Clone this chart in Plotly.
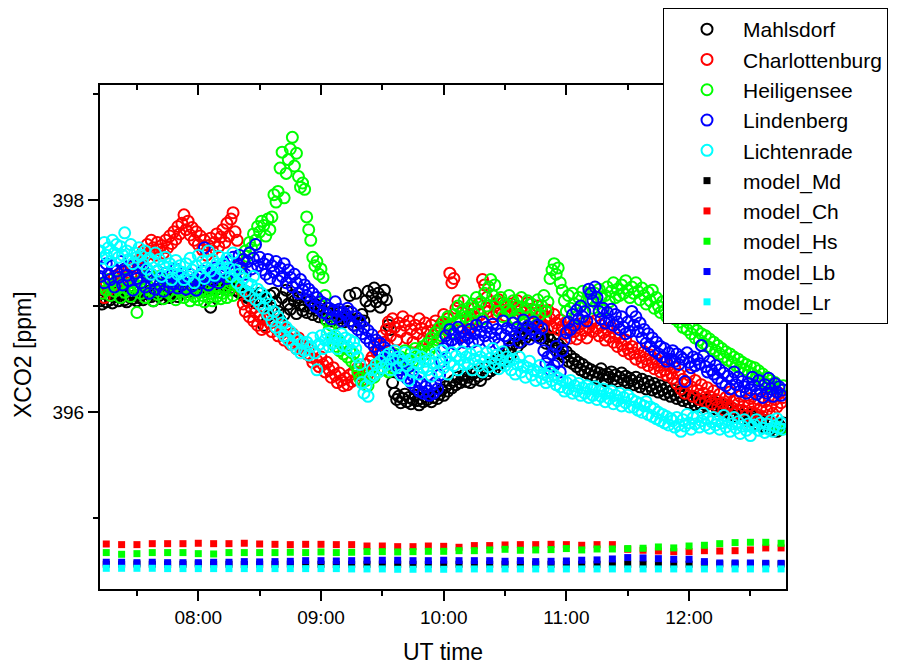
import plotly.graph_objects as go
import pandas as pd

DAY = "2014-06-01 "
OBS_START = "07:12"      # observations: one value per minute
MODEL_START = "07:15"    # model: one value every 7.5 minutes

MAHLSDORF = [
    397.05, 397.02, 397.08, 397.04, 397.10, 397.06, 397.03, 397.09, 397.12, 397.05, 397.08, 397.11, 397.06, 397.04, 397.09, 397.13, 397.07, 397.10, 397.05, 397.08,
    397.10, 397.06, 397.12, 397.08, 397.14, 397.09, 397.05, 397.11, 397.15, 397.10, 397.07, 397.12, 397.16, 397.11, 397.08, 397.13, 397.17, 397.12, 397.09, 397.14,
    397.18, 397.13, 397.16, 397.20, 397.14, 397.17, 397.21, 397.15, 397.19, 397.23, 397.17, 397.14, 397.20, 397.16, 396.99, 397.18, 397.22, 397.16, 397.20, 397.24,
    397.20, 397.24, 397.18, 397.22, 397.17, 397.21, 397.15, 397.19, 397.13, 397.16, 397.10, 397.14, 397.08, 397.12, 397.06, 397.10, 397.03, 397.08, 397.12, 397.05,
    396.82, 397.06, 396.90, 397.10, 396.98, 397.12, 397.04, 396.95, 396.87, 397.08, 396.92, 397.15, 397.02, 396.97, 397.10, 397.05, 396.93, 397.08, 397.01, 396.96,
    397.00, 396.94, 397.04, 396.98, 396.92, 397.02, 396.96, 396.90, 397.00, 396.95, 396.88, 396.98, 396.93, 396.86, 396.96, 396.91, 396.84, 396.94, 396.89, 396.85,
    396.90, 396.95, 397.10, 396.86, 396.82, 397.12, 396.88, 396.84, 396.92, 396.86, 397.05, 397.14, 397.00, 397.10, 397.17, 397.04, 397.12, 396.99, 397.08, 397.15,
    397.06, 396.82, 396.78, 396.28, 396.18, 396.12, 396.15, 396.09, 396.13, 396.17, 396.10, 396.14, 396.08, 396.12, 396.16, 396.11, 396.07, 396.13, 396.10, 396.15,
    396.12, 396.16, 396.10, 396.14, 396.18, 396.13, 396.17, 396.21, 396.16, 396.24, 396.20, 396.27, 396.23, 396.30, 396.26, 396.33, 396.28, 396.31, 396.35, 396.29,
    396.33, 396.28, 396.36, 396.31, 396.38, 396.34, 396.30, 396.37, 396.42, 396.36, 396.44, 396.39, 396.47, 396.41, 396.50, 396.45, 396.53, 396.48, 396.56, 396.51,
    396.60, 396.55, 396.64, 396.68, 396.62, 396.72, 396.66, 396.75, 396.70, 396.80, 396.74, 396.84, 396.78, 396.72, 396.81, 396.76, 396.70, 396.78, 396.65, 396.72,
    396.68, 396.62, 396.70, 396.58, 396.64, 396.55, 396.60, 396.52, 396.57, 396.48, 396.53, 396.46, 396.50, 396.43, 396.47, 396.40, 396.45, 396.38, 396.42, 396.36,
    396.40, 396.34, 396.38, 396.32, 396.37, 396.41, 396.35, 396.30, 396.36, 396.33, 396.38, 396.31, 396.35, 396.29, 396.33, 396.37, 396.30, 396.34, 396.28, 396.32,
    396.30, 396.26, 396.33, 396.28, 396.24, 396.31, 396.27, 396.22, 396.29, 396.25, 396.21, 396.27, 396.23, 396.19, 396.25, 396.21, 396.17, 396.23, 396.19, 396.15,
    396.21, 396.17, 396.13, 396.19, 396.15, 396.11, 396.17, 396.13, 396.09, 396.15, 396.11, 396.07, 396.13, 396.09, 396.05, 396.11, 396.07, 396.12, 396.08, 396.04,
    396.10, 396.06, 396.02, 396.08, 396.04, 396.00, 396.06, 396.02, 395.98, 396.04, 396.00, 395.96, 396.02, 395.98, 395.94, 396.00, 395.96, 395.92, 395.98, 395.94,
    395.96, 395.92, 395.88, 395.94, 395.90, 395.86, 395.92, 395.88, 395.84, 395.90, 395.86, 395.82, 395.88, 395.85, 395.90,
]

CHARLOTTENBURG = [
    397.12, 397.18, 397.08, 397.22, 397.15, 397.25, 397.19, 397.28, 397.21, 397.30, 397.24, 397.33, 397.27, 397.22, 397.35, 397.29, 397.38, 397.32, 397.42, 397.36,
    397.45, 397.52, 397.47, 397.58, 397.50, 397.62, 397.55, 397.48, 397.60, 397.53, 397.57, 397.50, 397.62, 397.55, 397.66, 397.59, 397.70, 397.63, 397.75, 397.68,
    397.78, 397.86, 397.72, 397.80, 397.67, 397.74, 397.62, 397.70, 397.58, 397.66, 397.53, 397.62, 397.48, 397.57, 397.64, 397.52, 397.60, 397.68, 397.56, 397.65,
    397.72, 397.60, 397.78, 397.66, 397.82, 397.88, 397.70, 397.62, 397.40, 397.15, 397.02, 396.95, 397.05, 396.90, 396.98, 396.86, 396.94, 396.82, 396.90, 396.78,
    396.88, 396.80, 396.92, 396.84, 396.76, 396.86, 396.79, 396.72, 396.82, 396.75, 396.68, 396.78, 396.70, 396.64, 396.74, 396.67, 396.60, 396.70, 396.63, 396.58,
    396.62, 396.55, 396.60, 396.52, 396.47, 396.56, 396.49, 396.43, 396.52, 396.45, 396.38, 396.47, 396.40, 396.33, 396.42, 396.35, 396.28, 396.37, 396.30, 396.25,
    396.32, 396.26, 396.35, 396.29, 396.38, 396.31, 396.42, 396.35, 396.30, 396.40, 396.45, 396.36, 396.48, 396.52, 396.44, 396.58, 396.65, 396.56, 396.72, 396.66,
    396.78, 396.85, 396.72, 396.88, 396.80, 396.68, 396.84, 396.76, 396.90, 396.82, 396.70, 396.86, 396.78, 396.66, 396.82, 396.74, 396.88, 396.79, 396.69, 396.84,
    396.76, 396.68, 396.82, 396.73, 396.86, 396.78, 396.70, 396.84, 396.92, 396.80, 396.88, 397.31, 397.22, 397.26, 396.98, 397.05, 396.86, 396.94, 396.72, 396.85,
    396.78, 396.92, 396.84, 396.98, 396.88, 397.02, 396.92, 397.25, 397.20, 397.08, 396.95, 397.04, 396.90, 397.00, 396.93, 397.06, 396.97, 397.03, 396.91, 397.00,
    396.95, 397.02, 396.88, 396.98, 397.05, 396.92, 396.99, 396.86, 396.95, 397.03, 396.90, 396.97, 396.84, 396.93, 397.00, 396.87, 396.95, 396.82, 396.90, 396.96,
    396.88, 396.80, 396.92, 396.84, 396.78, 396.87, 396.81, 396.74, 396.85, 396.78, 396.70, 396.82, 396.76, 396.69, 396.80, 396.73, 396.84, 396.77, 396.70, 396.80,
    396.84, 396.76, 396.86, 396.79, 396.72, 396.82, 396.75, 396.68, 396.78, 396.71, 396.80, 396.66, 396.74, 396.62, 396.70, 396.64, 396.58, 396.68, 396.60, 396.55,
    396.62, 396.56, 396.50, 396.60, 396.53, 396.47, 396.57, 396.50, 396.44, 396.54, 396.47, 396.41, 396.50, 396.44, 396.38, 396.47, 396.40, 396.35, 396.44, 396.37,
    396.32, 396.42, 396.27, 396.36, 396.22, 396.31, 396.18, 396.28, 396.35, 396.24, 396.15, 396.30, 396.21, 396.12, 396.26, 396.18, 396.10, 396.23, 396.15, 396.08,
    396.20, 396.12, 396.05, 396.17, 396.09, 396.02, 396.14, 396.07, 396.19, 396.04, 396.11, 395.99, 396.08, 396.15, 396.02, 396.10, 395.97, 396.06, 396.13, 396.00,
    396.08, 395.98, 396.12, 396.04, 395.96, 396.10, 396.02, 396.15, 396.06, 395.99, 396.12, 396.05, 396.18, 396.09, 396.14,
]

HEILIGENSEE = [
    397.18, 397.12, 397.22, 397.15, 397.25, 397.10, 397.20, 397.14, 397.24, 397.17, 397.08, 397.21, 397.13, 397.26, 397.16, 397.09, 397.22, 397.15, 396.94, 397.19,
    397.12, 397.26, 397.08, 397.20, 397.30, 397.14, 397.05, 397.23, 397.11, 397.28, 397.17, 397.07, 397.22, 397.13, 397.25, 397.10, 397.18, 397.06, 397.21, 397.14,
    397.16, 397.08, 397.20, 397.11, 397.05, 397.17, 397.09, 397.14, 397.06, 397.19, 397.10, 397.04, 397.15, 397.08, 397.12, 397.05, 397.18, 397.09, 397.13, 397.07,
    397.12, 397.18, 397.08, 397.15, 397.22, 397.10, 397.28, 397.20, 397.35, 397.30, 397.44, 397.52, 397.47, 397.60, 397.55, 397.68, 397.62, 397.75, 397.70, 397.80,
    397.76, 397.66, 397.82, 397.72, 397.84, 398.05, 397.98, 398.08, 398.30, 398.45, 398.02, 398.25, 398.38, 398.48, 398.59, 398.32, 398.44, 398.22, 398.12, 398.16,
    398.10, 397.84, 397.72, 397.62, 397.46, 397.38, 397.42, 397.30, 397.35, 397.27, 397.10, 396.86, 396.78, 396.82, 396.70, 396.62, 396.68, 396.58, 396.64, 396.55,
    396.60, 396.52, 396.58, 396.48, 396.55, 396.44, 396.38, 396.32, 396.28, 396.36, 396.30, 396.25, 396.34, 396.40, 396.33, 396.45, 396.38, 396.42, 396.48, 396.40,
    396.45, 396.38, 396.50, 396.42, 396.55, 396.47, 396.40, 396.52, 396.45, 396.58, 396.50, 396.43, 396.56, 396.48, 396.60, 396.53, 396.46, 396.58, 396.62, 396.55,
    396.65, 396.58, 396.70, 396.62, 396.75, 396.68, 396.80, 396.72, 396.85, 396.78, 396.90, 396.82, 396.75, 396.92, 396.85, 397.00, 396.88, 396.95, 397.05, 396.90,
    396.98, 396.86, 397.02, 396.92, 397.08, 396.95, 397.04, 396.88, 397.12, 397.00, 397.18, 397.25, 397.10, 397.20, 397.05, 396.95, 397.08, 396.90, 397.02, 396.96,
    397.10, 396.95, 397.05, 396.88, 397.00, 396.92, 397.08, 396.85, 396.98, 397.05, 396.90, 397.02, 396.86, 396.96, 397.06, 396.92, 397.00, 397.10, 396.95, 397.04,
    397.26, 397.34, 397.40, 397.30, 397.36, 397.22, 397.15, 397.05, 396.95, 397.10, 396.98, 397.12, 397.02, 396.90, 397.08, 397.00, 397.14, 396.94, 397.06, 397.12,
    397.05, 396.98, 397.12, 397.02, 397.16, 397.08, 396.96, 397.10, 397.18, 397.04, 397.14, 397.22, 397.08, 397.16, 397.10, 397.20, 397.12, 397.24, 397.15, 397.08,
    397.18, 397.12, 397.22, 397.14, 397.06, 397.17, 397.10, 397.02, 397.13, 397.05, 397.15, 396.98, 397.08, 397.00, 396.94, 397.04, 396.96, 396.90, 397.00, 396.92,
    396.96, 396.88, 396.94, 396.85, 396.90, 396.80, 396.87, 396.78, 396.84, 396.74, 396.80, 396.70, 396.77, 396.68, 396.74, 396.65, 396.72, 396.62, 396.69, 396.60,
    396.66, 396.58, 396.63, 396.55, 396.60, 396.52, 396.57, 396.49, 396.55, 396.47, 396.52, 396.44, 396.50, 396.42, 396.47, 396.40, 396.45, 396.38, 396.43, 396.36,
    396.42, 396.34, 396.39, 396.31, 396.36, 396.28, 396.33, 396.26, 396.30, 396.24, 396.28, 395.86, 396.22, 395.84, 396.25,
]

LINDENBERG = [
    397.28, 397.36, 397.22, 397.40, 397.30, 397.25, 397.38, 397.18, 397.33, 397.27, 397.42, 397.20, 397.35, 397.29, 397.24, 397.37, 397.15, 397.31, 397.26, 397.39,
    397.22, 397.34, 397.18, 397.28, 397.12, 397.30, 397.24, 397.16, 397.33, 397.20, 397.27, 397.14, 397.31, 397.23, 397.18, 397.29, 397.21, 397.35, 397.17, 397.26,
    397.20, 397.27, 397.16, 397.24, 397.30, 397.19, 397.25, 397.15, 397.28, 397.22, 397.33, 397.55, 397.26, 397.20, 397.31, 397.24, 397.36, 397.28, 397.22, 397.34,
    397.30, 397.38, 397.26, 397.42, 397.34, 397.46, 397.32, 397.40, 397.48, 397.36, 397.44, 397.30, 397.42, 397.50, 397.35, 397.45, 397.58, 397.38, 397.46, 397.34,
    397.40, 397.30, 397.44, 397.26, 397.38, 397.32, 397.42, 397.24, 397.36, 397.28, 397.40, 397.22, 397.34, 397.27, 397.18, 397.30, 397.22, 397.12, 397.25, 397.15,
    397.20, 397.10, 397.16, 397.05, 397.12, 397.00, 397.08, 396.98, 397.04, 396.94, 397.02, 396.92, 396.98, 396.88, 396.96, 397.04, 396.90, 396.97, 396.86, 396.94,
    396.92, 396.98, 396.86, 396.94, 396.82, 396.90, 396.78, 396.86, 396.74, 396.80, 396.70, 396.77, 396.66, 396.73, 396.62, 396.68, 396.58, 396.65, 396.55, 396.61,
    396.52, 396.58, 396.48, 396.54, 396.44, 396.50, 396.40, 396.46, 396.36, 396.42, 396.32, 396.38, 396.28, 396.34, 396.24, 396.30, 396.20, 396.27, 396.18, 396.24,
    396.20, 396.16, 396.25, 396.18, 396.28, 396.22, 396.35, 396.48, 396.60, 396.72, 396.65, 396.78, 396.68, 396.74, 396.64, 396.80, 396.70, 396.76, 396.66, 396.73,
    396.70, 396.78, 396.66, 396.74, 396.82, 396.68, 396.76, 396.85, 396.72, 396.80, 396.66, 396.75, 396.83, 396.70, 396.78, 396.64, 396.74, 396.86, 396.72, 396.79,
    396.68, 396.77, 396.84, 396.72, 396.80, 396.66, 396.75, 396.87, 396.73, 396.81, 396.69, 396.78, 396.85, 396.74, 396.82, 396.70, 396.79, 396.58, 396.46, 396.52,
    396.40, 396.55, 396.44, 396.62, 396.48, 396.38, 396.58, 396.68, 396.75, 396.85, 396.78, 396.92, 396.82, 396.96, 396.88, 397.00, 396.90, 396.95, 396.86, 397.16,
    397.12, 397.05, 397.18, 397.08, 396.95, 396.88, 396.98, 396.84, 396.94, 396.86, 396.97, 396.82, 396.92, 396.85, 396.78, 396.90, 396.80, 396.74, 396.85, 396.76,
    396.95, 396.82, 396.90, 396.76, 396.84, 396.70, 396.78, 396.65, 396.74, 396.62, 396.70, 396.58, 396.66, 396.55, 396.62, 396.52, 396.60, 396.48, 396.56, 396.50,
    396.58, 396.48, 396.55, 396.45, 396.52, 396.50, 396.29, 396.56, 396.47, 396.42, 396.52, 396.44, 396.50, 396.46, 396.63, 396.53, 396.43, 396.38, 396.48, 396.40,
    396.36, 396.44, 396.32, 396.40, 396.28, 396.37, 396.25, 396.34, 396.22, 396.31, 396.38, 396.26, 396.33, 396.20, 396.29, 396.24, 396.18, 396.27, 396.21, 396.33,
    396.25, 396.17, 396.30, 396.20, 396.14, 396.26, 396.18, 396.32, 396.22, 396.15, 396.27, 396.19, 396.24, 396.16, 396.21,
]

LICHTENRADE = [
    397.52, 397.45, 397.60, 397.48, 397.55, 397.42, 397.62, 397.50, 397.58, 397.46, 397.56, 397.48, 397.69, 397.52, 397.44, 397.58, 397.40, 397.50, 397.46, 397.55,
    397.48, 397.40, 397.52, 397.35, 397.45, 397.30, 397.42, 397.50, 397.33, 397.44, 397.28, 397.38, 397.46, 397.32, 397.40, 397.25, 397.36, 397.43, 397.30, 397.38,
    397.32, 397.25, 397.40, 397.28, 397.45, 397.34, 397.22, 397.38, 397.48, 397.30, 397.42, 397.26, 397.36, 397.52, 397.33, 397.44, 397.29, 397.40, 397.47, 397.35,
    397.40, 397.32, 397.45, 397.36, 397.28, 397.50, 397.34, 397.22, 397.30, 397.18, 397.26, 397.14, 397.22, 397.10, 397.20, 397.28, 397.06, 397.16, 397.02, 397.12,
    396.98, 397.08, 396.92, 397.02, 396.86, 396.95, 396.80, 396.90, 396.76, 396.84, 396.72, 396.80, 396.68, 396.76, 396.64, 396.72, 396.60, 396.68, 396.56, 396.65,
    396.58, 396.66, 396.54, 396.62, 396.70, 396.56, 396.40, 396.64, 396.72, 396.60, 396.68, 396.74, 396.62, 396.70, 396.65, 396.72, 396.60, 396.68, 396.74, 396.63,
    396.70, 396.62, 396.68, 396.58, 396.66, 396.60, 396.52, 396.45, 396.28, 396.18, 396.25, 396.15, 396.32, 396.40, 396.35, 396.45, 396.38, 396.48, 396.42, 396.52,
    396.45, 396.55, 396.40, 396.50, 396.58, 396.42, 396.52, 396.35, 396.48, 396.56, 396.44, 396.30, 396.50, 396.38, 396.54, 396.46, 396.36, 396.52, 396.42, 396.48,
    396.40, 396.50, 396.34, 396.46, 396.55, 396.38, 396.48, 396.58, 396.42, 396.52, 396.36, 396.47, 396.56, 396.44, 396.53, 396.40, 396.50, 396.57, 396.45, 396.52,
    396.46, 396.55, 396.40, 396.50, 396.58, 396.44, 396.52, 396.38, 396.48, 396.56, 396.43, 396.51, 396.60, 396.46, 396.54, 396.41, 396.49, 396.57, 396.44, 396.52,
    396.48, 396.40, 396.50, 396.36, 396.45, 396.52, 396.38, 396.44, 396.33, 396.42, 396.48, 396.35, 396.40, 396.30, 396.38, 396.44, 396.32, 396.36, 396.28, 396.34,
    396.38, 396.30, 396.35, 396.26, 396.32, 396.24, 396.30, 396.20, 396.28, 396.22, 396.30, 396.18, 396.25, 396.20, 396.27, 396.16, 396.23, 396.18, 396.25, 396.14,
    396.22, 396.16, 396.24, 396.12, 396.20, 396.15, 396.22, 396.10, 396.18, 396.13, 396.20, 396.08, 396.16, 396.11, 396.18, 396.06, 396.14, 396.09, 396.16, 396.05,
    396.12, 396.05, 396.10, 396.02, 396.08, 396.00, 396.06, 396.10, 395.98, 396.05, 395.96, 396.03, 395.94, 396.00, 395.92, 395.98, 395.90, 395.96, 395.88, 395.94,
    395.92, 395.86, 395.95, 395.88, 395.82, 395.93, 395.87, 395.98, 395.90, 395.84, 395.95, 395.89, 395.96, 395.86, 395.92, 395.99, 395.88, 395.94, 395.85, 395.91,
    395.95, 395.88, 395.92, 395.84, 395.90, 395.97, 395.86, 395.93, 395.82, 395.89, 395.95, 395.85, 395.91, 395.80, 395.87, 395.93, 395.83, 395.89, 395.78, 395.86,
    395.88, 395.93, 395.83, 395.90, 395.85, 395.81, 395.89, 395.84, 395.92, 395.82, 395.87, 395.94, 395.85, 395.90, 395.84,
]

MODEL_MD = [
    394.568, 394.568, 394.570, 394.568, 394.566, 394.568, 394.570, 394.568, 394.568, 394.566, 394.568, 394.568, 394.570, 394.568, 394.568,
    394.566, 394.568, 394.568, 394.570, 394.568, 394.568, 394.566, 394.568, 394.568, 394.568, 394.568, 394.568, 394.568, 394.568, 394.568,
    394.568, 394.568, 394.568, 394.571, 394.568, 394.568, 394.568, 394.568, 394.568, 394.568, 394.570, 394.570, 394.570, 394.570, 394.570,
]
MODEL_CH = [
    394.759, 394.753, 394.753, 394.762, 394.762, 394.762, 394.766, 394.762, 394.762, 394.766, 394.759, 394.756, 394.753, 394.756, 394.756,
    394.753, 394.753, 394.740, 394.740, 394.734, 394.734, 394.740, 394.737, 394.728, 394.744, 394.744, 394.750, 394.753, 394.753, 394.756,
    394.753, 394.747, 394.753, 394.753, 394.709, 394.700, 394.693, 394.687, 394.687, 394.696, 394.693, 394.696, 394.703, 394.722, 394.722,
]
MODEL_HS = [
    394.678, 394.662, 394.668, 394.678, 394.678, 394.678, 394.668, 394.665, 394.678, 394.678, 394.678, 394.678, 394.681, 394.678, 394.684,
    394.678, 394.681, 394.687, 394.687, 394.684, 394.687, 394.690, 394.690, 394.696, 394.696, 394.703, 394.709, 394.700, 394.703, 394.706,
    394.716, 394.703, 394.712, 394.712, 394.716, 394.719, 394.731, 394.722, 394.740, 394.747, 394.762, 394.772, 394.775, 394.775, 394.766,
]
MODEL_LB = [
    394.587, 394.587, 394.583, 394.587, 394.583, 394.583, 394.583, 394.587, 394.587, 394.593, 394.590, 394.593, 394.596, 394.602, 394.602,
    394.599, 394.602, 394.606, 394.606, 394.606, 394.602, 394.602, 394.606, 394.602, 394.602, 394.602, 394.596, 394.602, 394.593, 394.596,
    394.599, 394.606, 394.609, 394.618, 394.631, 394.628, 394.621, 394.615, 394.615, 394.593, 394.580, 394.580, 394.580, 394.577, 394.577,
]
MODEL_LR = [
    394.530, 394.530, 394.530, 394.530, 394.527, 394.527, 394.527, 394.527, 394.527, 394.527, 394.527, 394.527, 394.527, 394.527, 394.527,
    394.527, 394.524, 394.524, 394.524, 394.521, 394.521, 394.524, 394.521, 394.524, 394.524, 394.524, 394.524, 394.524, 394.524, 394.524,
    394.524, 394.524, 394.524, 394.524, 394.524, 394.524, 394.524, 394.524, 394.524, 394.524, 394.524, 394.524, 394.524, 394.524, 394.524,
]

OBS = [("Mahlsdorf", MAHLSDORF, "#000000"),
       ("Charlottenburg", CHARLOTTENBURG, "#FF0000"),
       ("Heiligensee", HEILIGENSEE, "#00FF00"),
       ("Lindenberg", LINDENBERG, "#0000FF"),
       ("Lichtenrade", LICHTENRADE, "#00FFFF")]
MODELS = [("model_Md", MODEL_MD, "#000000"),
          ("model_Ch", MODEL_CH, "#FF0000"),
          ("model_Hs", MODEL_HS, "#00FF00"),
          ("model_Lb", MODEL_LB, "#0000FF"),
          ("model_Lr", MODEL_LR, "#00FFFF")]

X_RANGE = [DAY + "07:11:56", DAY + "12:47:24"]
Y_RANGE = [394.335, 399.083]

fig = go.Figure()
for name, vals, col in OBS:
    t = pd.date_range(DAY + OBS_START, periods=len(vals), freq="1min")
    fig.add_trace(go.Scatter(x=t, y=vals, mode="markers", name=name,
                             marker=dict(symbol="circle-open", size=11, color=col,
                                         line=dict(width=2, color=col))))
for name, vals, col in MODELS:
    t = pd.date_range(DAY + MODEL_START, periods=len(vals), freq="450s")
    fig.add_trace(go.Scatter(x=t, y=vals, mode="markers", name=name,
                             marker=dict(symbol="square", size=7, color=col,
                                         line=dict(width=0))))
# empty helper trace so that the top tick axis is drawn
fig.add_trace(go.Scatter(x=[], y=[], xaxis="x2", showlegend=False, hoverinfo="skip"))

FONT = "Liberation Sans, Arial, sans-serif"
fig.update_layout(
    width=908, height=664,
    margin=dict(l=100, r=122, t=85, b=75, autoexpand=False),
    paper_bgcolor="white", plot_bgcolor="white",
    font=dict(family=FONT, color="black", size=19),
    showlegend=True,
    legend=dict(x=0.8207, y=1.1528, xanchor="left", yanchor="top",
                bgcolor="white", bordercolor="black", borderwidth=1,
                font=dict(family=FONT, size=21, color="black"),
                indentation=7, itemwidth=62,
                entrywidth=215, entrywidthmode="pixels"),
    xaxis=dict(type="date", range=X_RANGE, tickformat="%H:%M",
               tick0=DAY + "08:00", dtick=3600000,
               ticks="outside", ticklen=10, tickwidth=2, tickcolor="black",
               minor=dict(dtick=1800000, ticks="outside", ticklen=5, tickwidth=2, tickcolor="black"),
               showline=True, linewidth=2, linecolor="black", mirror=True,
               showgrid=False, zeroline=False,
               tickfont=dict(size=19)),
    xaxis2=dict(type="date", range=X_RANGE, overlaying="x", side="top",
                tick0=DAY + "08:00", dtick=3600000, showticklabels=False,
                ticks="inside", ticklen=10, tickwidth=2, tickcolor="black",
                minor=dict(dtick=1800000, ticks="inside", ticklen=5, tickwidth=2, tickcolor="black"),
                showline=False, showgrid=False, zeroline=False),
    yaxis=dict(range=Y_RANGE, tick0=394, dtick=2,
               ticks="outside", ticklen=10, tickwidth=2, tickcolor="black",
               minor=dict(dtick=1, ticks="outside", ticklen=5, tickwidth=2, tickcolor="black"),
               showline=True, linewidth=2, linecolor="black", mirror=True,
               showgrid=False, zeroline=False,
               tickfont=dict(size=19)),
    annotations=[
        dict(text="XCO2 [ppm]", xref="paper", yref="paper",
             x=(23 - 100) / 686, y=(589 - 355) / 504, showarrow=False,
             textangle=-90, font=dict(size=23, family=FONT, color="black"),
             xanchor="center", yanchor="middle"),
        dict(text="UT time", xref="paper", yref="paper",
             x=0.5, y=(589 - 652) / 504, showarrow=False,
             font=dict(size=23, family=FONT, color="black"),
             xanchor="center", yanchor="middle"),
    ],
)

fig.write_html("out.html")
